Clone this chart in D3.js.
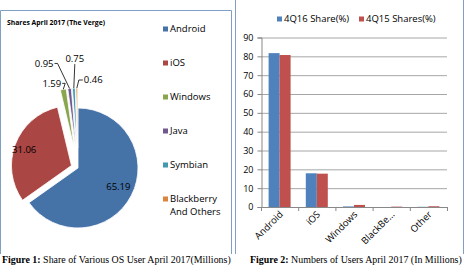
<!DOCTYPE html>
<html>
<head>
<meta charset="utf-8">
<script src="https://cdn.jsdelivr.net/npm/d3@7"></script>
<style>
  body { margin: 0; background: #fff; }
  svg { display: block; }
  .lbl { font-family: "Open Sans", "Noto Sans", sans-serif; font-size: 9.5px; fill: #000; }
  .tick text { font-family: "Open Sans", "Noto Sans", sans-serif; font-size: 9px; fill: #000; }
  .cap { font-family: "Liberation Serif", "Times New Roman", serif; font-size: 10.5px; fill: #000; }
</style>
</head>
<body>
<svg id="chart" width="468" height="266"></svg>
<script>
// Pie data (Figure 1)
const osNames = ['Android', 'iOS', 'Windows', 'Java', 'Symbian', 'Blackberry And Others'];
const osShares = [65.19, 31.06, 1.59, 0.95, 0.75, 0.46];
const osColors = ['#4572a7', '#aa4643', '#89a54e', '#71588f', '#4198af', '#db843d'];

// Bar data (Figure 2)
const platforms = ['Android', 'iOS', 'Windows', 'BlackBe...', 'Other'];
const share4Q16 = [81.7, 17.9, 0.3, 0.0, 0.1];
const share4Q15 = [80.7, 17.7, 1.1, 0.2, 0.4];
const seriesNames = ['4Q16 Share(%)', '4Q15 Shares(%)'];
const seriesColors = ['#4f81bd', '#c0504d'];
const yTicks = [0, 10, 20, 30, 40, 50, 60, 70, 80, 90];

const svg = d3.select('#chart');
const borderColor = '#7f9fc3';

// Panel frames
svg.append('path')
  .attr('d', 'M0.5,254 V10.5 H231.5 V254')
  .attr('fill', 'none').attr('stroke', borderColor);
svg.append('path')
  .attr('d', 'M235.5,254 V-1 M463.5,-1 V254')
  .attr('fill', 'none').attr('stroke', borderColor);

// ---------- Pie ----------
const pieG = svg.append('g').attr('transform', 'translate(78,168)');
const radius = 60;
const explode = [0, 7, 20, 20, 20, 20];

svg.append('text')
  .attr('x', 7).attr('y', 25)
  .attr('font-family', '"Open Sans", sans-serif')
  .attr('font-weight', 'bold')
  .attr('font-size', 7.5)
  .attr('textLength', 98).attr('lengthAdjust', 'spacingAndGlyphs')
  .text('Shares April 2017 (The Verge)');

const pie = d3.pie().sort(null).value(d => d.value);
const arcs = pie(osShares.map((v, i) => ({ name: osNames[i], value: v, i })));
const arc = d3.arc().innerRadius(0).outerRadius(radius);

function offsetOf(a, dist) {
  const m = (a.startAngle + a.endAngle) / 2;
  return [Math.sin(m) * dist, -Math.cos(m) * dist];
}

pieG.selectAll('path.slice')
  .data(arcs)
  .join('path')
  .attr('class', 'slice')
  .attr('d', arc)
  .attr('transform', d => `translate(${offsetOf(d, explode[d.data.i])})`)
  .attr('fill', d => osColors[d.data.i])
  .attr('stroke', '#fff')
  .attr('stroke-width', 0.8);

// Inside labels for the two big slices
const innerArc = d3.arc().innerRadius(radius * 0.55).outerRadius(radius * 0.85);
pieG.selectAll('text.inlbl')
  .data(arcs.slice(0, 2))
  .join('text')
  .attr('class', 'lbl inlbl')
  .attr('text-anchor', 'middle')
  .attr('dy', '0.35em')
  .attr('transform', (d, k) => {
    const c = innerArc.centroid(d);
    const o = offsetOf(d, explode[d.data.i]);
    const nudge = k === 0 ? [3, -1] : [-8, -1];
    return `translate(${c[0] + o[0] + nudge[0]},${c[1] + o[1] + nudge[1]})`;
  })
  .text(d => d3.format('.2f')(d.value));

// Outside labels with leader lines for the small slices
// elbow point relative to each slice's outer tip, then a short stub toward the text
const leader = [
  { dx: 2, dy: -6, stub: -3, side: 'left' },
  { dx: -12, dy: -25, stub: -3, side: 'left' },
  { dx: 1, dy: -24, stub: 0, side: 'top' },
  { dx: 2, dy: -8, stub: 4, side: 'right' }
];
arcs.slice(2).forEach((d, k) => {
  const m = (d.startAngle + d.endAngle) / 2;
  const r = radius + explode[d.data.i];
  const tip = [Math.sin(m) * r, -Math.cos(m) * r];
  const L = leader[k];
  const end = [tip[0] + L.dx, tip[1] + L.dy];
  pieG.append('path')
    .attr('d', `M${tip[0]},${tip[1]} L${end[0]},${end[1]} L${end[0] + L.stub},${end[1]}`)
    .attr('fill', 'none').attr('stroke', '#000').attr('stroke-width', 0.8);
  const t = pieG.append('text')
    .attr('class', 'lbl')
    .text(d3.format('.2f')(d.value));
  if (L.side === 'top') {
    t.attr('x', end[0]).attr('y', end[1] - 2).attr('text-anchor', 'middle');
  } else {
    t.attr('x', end[0] + L.stub + (L.side === 'left' ? -1 : 1))
      .attr('y', end[1]).attr('dy', '0.35em')
      .attr('text-anchor', L.side === 'left' ? 'end' : 'start');
  }
});

// Pie legend
const legY = d3.scalePoint().domain(osNames).range([29, 199]);
const pieLeg = svg.append('g');
osNames.forEach((n, i) => {
  pieLeg.append('rect')
    .attr('x', 163).attr('y', legY(n) - 2.5)
    .attr('width', 5).attr('height', 5)
    .attr('fill', osColors[i]);
  const words = n === 'Blackberry And Others' ? ['Blackberry', 'And Others'] : [n];
  const t = pieLeg.append('text').attr('class', 'lbl').attr('x', 170).attr('y', legY(n));
  words.forEach((w, j) => t.append('tspan').attr('x', 170).attr('dy', j === 0 ? '0.35em' : '1.3em').text(w));
});

// ---------- Bars ----------
const x0 = d3.scaleBand().domain(platforms).range([261, 447]);
const x1 = d3.scaleBand().domain([0, 1]).range([0, 22]);
const y = d3.scaleLinear().domain([0, 90]).range([207, 37.5]);

const barG = svg.append('g');

barG.append('g')
  .selectAll('line')
  .data(yTicks.slice(1))
  .join('line')
  .attr('x1', 261).attr('x2', 447)
  .attr('y1', d => y(d) + 0.5).attr('y2', d => y(d) + 0.5)
  .attr('stroke', '#a6a6a6').attr('stroke-width', 1);

const yAxis = barG.append('g')
  .attr('transform', 'translate(261.5,0)')
  .call(d3.axisLeft(y).tickValues(yTicks).tickSize(4).tickPadding(4));
yAxis.select('.domain').attr('stroke', '#888');
yAxis.selectAll('.tick line').attr('stroke', '#888');

const groups = [share4Q16, share4Q15];
platforms.forEach((p, i) => {
  groups.forEach((s, k) => {
    barG.append('rect')
      .attr('x', x0(p) + (x0.bandwidth() - 22) / 2 + x1(k))
      .attr('y', y(s[i]))
      .attr('width', x1.bandwidth())
      .attr('height', y(0) - y(s[i]))
      .attr('fill', seriesColors[k]);
  });
});

// x axis
barG.append('line')
  .attr('x1', 261).attr('x2', 447)
  .attr('y1', 207.5).attr('y2', 207.5)
  .attr('stroke', '#888');
barG.selectAll('line.xt')
  .data(platforms.concat(['end']))
  .join('line')
  .attr('class', 'xt')
  .attr('x1', d => (d === 'end' ? 447 : x0(d)) + 0.5)
  .attr('x2', d => (d === 'end' ? 447 : x0(d)) + 0.5)
  .attr('y1', 207).attr('y2', 211)
  .attr('stroke', '#888');
barG.selectAll('text.xl')
  .data(platforms)
  .join('text')
  .attr('class', 'lbl xl')
  .attr('font-size', 9)
  .attr('text-anchor', 'end')
  .attr('transform', d => `translate(${x0(d) + x0.bandwidth() / 2 + 4},${215}) rotate(-45)`)
  .text(d => d);

// Bar legend
const barLegX = [277, 359];
seriesNames.forEach((n, k) => {
  svg.append('rect')
    .attr('x', barLegX[k]).attr('y', 16.5)
    .attr('width', 5).attr('height', 5)
    .attr('fill', seriesColors[k]);
  svg.append('text')
    .attr('class', 'lbl')
    .attr('x', barLegX[k] + 7).attr('y', 19).attr('dy', '0.35em')
    .text(n);
});

// ---------- Captions ----------
// squeeze each caption horizontally to its target width
function caption(x, width, bold, rest) {
  const g = svg.append('g');
  const t = g.append('text').attr('class', 'cap').attr('x', 0).attr('y', 0);
  t.append('tspan').attr('font-weight', 'bold').text(bold);
  t.append('tspan').text(rest);
  const w = t.node().getComputedTextLength();
  g.attr('transform', `translate(${x},262.5) scale(${Math.min(1, width / w)},1)`);
}
caption(2, 229, 'Figure 1:', ' Share of Various OS User April 2017(Millions)');
caption(250, 212, 'Figure 2:', ' Numbers of Users April 2017 (In Millions)');
</script>
</body>
</html>
